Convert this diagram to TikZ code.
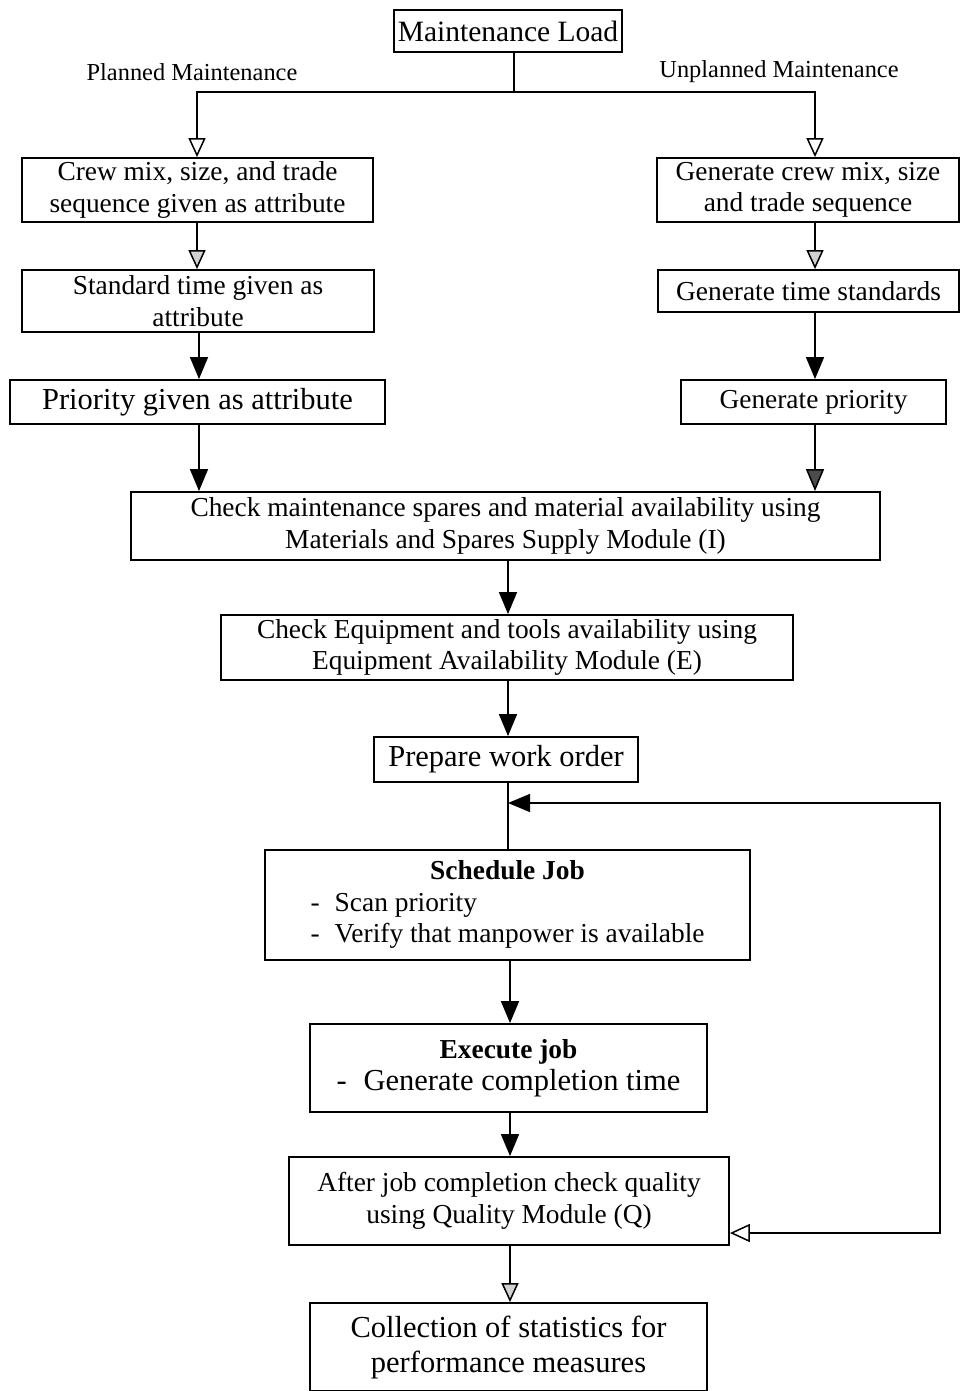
\documentclass[tikz,border=0pt]{standalone}
\usepackage{fontspec}
\setmainfont{Liberation Serif}
\usetikzlibrary{arrows.meta}
\newcommand\normsz{\fontsize{27.4}{31.5}\selectfont}
\newcommand\bigsz{\fontsize{30.5}{35}\selectfont}
\newcommand\labsz{\fontsize{24.4}{28}\selectfont}
\newcommand\dashitem{-\hspace{0.55em}}
\begin{document}
\begin{tikzpicture}[x=1pt,y=-1pt,
  box/.style={draw, line width=1.8pt, rectangle, inner sep=0pt, align=center, font=\normsz},
  lab/.style={inner sep=0pt, font=\labsz},
  conn/.style={line width=1.5pt},
  fa/.style={conn, -{Triangle[length=22pt,width=18pt]}},
  ga/.style={conn, -{Triangle[length=22pt,width=18pt,fill=black!70]}},
  oa/.style={conn, -{Triangle[length=19pt,width=17pt,fill=white]}},
  pa/.style={conn, -{Triangle[length=19pt,width=17pt,fill=gray!35]}}]
\fill[white] (0,0) rectangle (960,1391);
\useasboundingbox (0,0) rectangle (960,1391);

% column references
\coordinate (mc) at (508,0);
\coordinate (mc2) at (510,0);
\coordinate (split) at (514,92);
\coordinate (loopC) at (940,803);

% top
\node[box, font=\fontsize{29.5}{34}\selectfont, minimum width=228pt, minimum height=42pt] (ml) at (508,31) {Maintenance Load};
\node[lab] (plab) at (192,72) {Planned Maintenance};
\node[lab] (ulab) at (779,72) {Unplanned Maintenance};

% planned branch
\node[box, minimum width=351pt, minimum height=64pt] (crew) at (197.5,190) {Crew mix, size, and trade\\sequence given as attribute};
\node[box, minimum width=352pt, minimum height=62pt] (std) at (198,301) {Standard time given as\\attribute};
\node[box, font=\bigsz, minimum width=375pt, minimum height=44pt] (prio) at (197.5,402) {Priority given as attribute};

% unplanned branch
\node[box, minimum width=302pt, minimum height=64pt] (gencrew) at (808,190) {Generate crew mix, size\\and trade sequence};
\node[box, minimum width=301pt, minimum height=42pt] (gentime) at (808.5,291) {Generate time standards};
\node[box, minimum width=265pt, minimum height=44pt] (genprio) at (813.5,402) {Generate priority};

% main column
\node[box, minimum width=749pt, minimum height=68pt] (check) at (505.5,526) {Check maintenance spares and material availability using\\Materials and Spares Supply Module (I)};
\node[box, minimum width=572pt, minimum height=65pt] (equip) at (507,647.5) {Check Equipment and tools availability using\\Equipment Availability Module (E)};
\node[box, font=\bigsz, minimum width=264pt, minimum height=45pt] (prep) at (506,759.5) {Prepare work order};
\node[box, minimum width=485pt, minimum height=110pt] (sched) at (507.5,905) {\begin{tabular}{@{}l@{}}\multicolumn{1}{@{}c@{}}{\textbf{Schedule Job}}\\ \dashitem Scan priority\\ \dashitem Verify that manpower is available\end{tabular}};
\node[box, minimum width=397pt, minimum height=88pt] (exec) at (508.5,1068) {\textbf{Execute job}\\[1pt]{\bigsz\dashitem Generate completion time}};
\node[box, minimum width=440pt, minimum height=88pt] (qual) at (509,1201) {After job completion check quality\\using Quality Module (Q)};
\node[box, font=\bigsz, minimum width=397pt, minimum height=88pt] (coll) at (508.5,1347) {Collection of statistics for\\performance measures};

% split from the maintenance load
\draw[conn] (ml.south -| split) -- (split);
\draw[oa] (split) -| (crew.north -| 197,0);
\draw[oa] (split) -| ([xshift=7pt]gencrew.north);

% planned branch connectors
\draw[pa] (crew.south -| 197,0) -- (std.north -| 197,0);
\draw[fa] (std.south -| 199,0) -- (prio.north -| 199,0);
\draw[fa] (prio.south -| 199,0) -- (check.north -| 199,0);

% unplanned branch connectors
\draw[pa] ([xshift=7pt]gencrew.south) -- (gentime.north -| 815,0);
\draw[fa] (gentime.south -| 815,0) -- (genprio.north -| 815,0);
\draw[ga] (genprio.south -| 815,0) -- (check.north -| 815,0);

% main column connectors
\draw[fa] (check.south -| mc) -- (equip.north -| mc);
\draw[fa] (equip.south -| mc) -- (prep.north -| mc);
\draw[conn] (prep.south -| mc) -- (sched.north -| mc);
\draw[fa] (sched.south -| mc2) -- (exec.north -| mc2);
\draw[fa] (exec.south -| mc2) -- (qual.north -| mc2);
\draw[pa] (qual.south -| mc2) -- (coll.north -| mc2);

% quality feedback loop
\coordinate (join) at (508,803);
\draw[conn, {Triangle[length=20pt,width=18pt,fill=white]}-{Triangle[length=22pt,width=18pt]}]
  ([yshift=-32pt]qual.east) -| (loopC) -- (join);
\end{tikzpicture}
\end{document}
